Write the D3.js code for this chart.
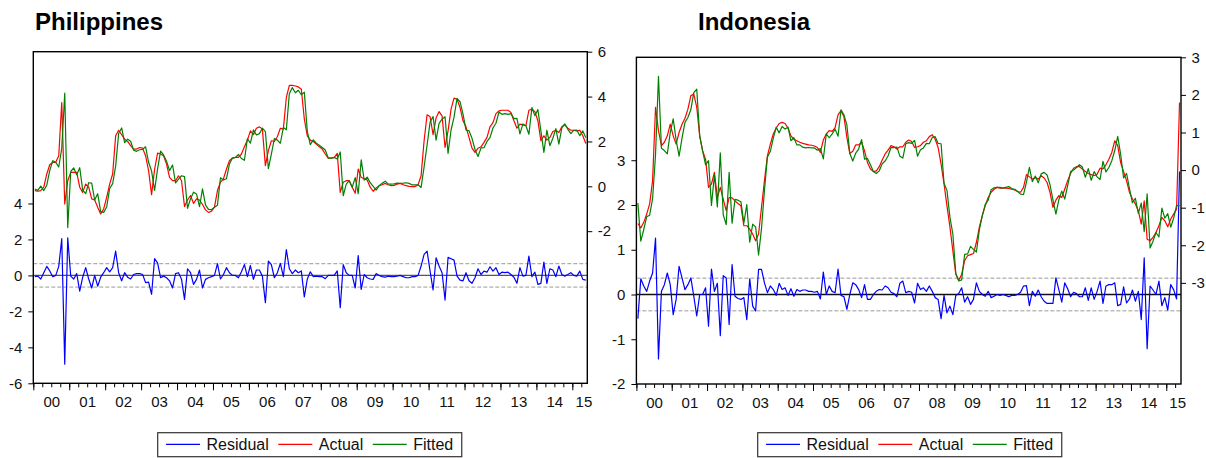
<!DOCTYPE html>
<html>
<head>
<meta charset="utf-8">
<script src="https://cdn.jsdelivr.net/npm/d3@7"></script>
<style>
  body { margin: 0; background: #fff; }
  svg { display: block; font-family: Arial, "Liberation Sans", sans-serif; }
</style>
</head>
<body>
<svg id="chart" width="1206" height="458"></svg>
<script>
// Monthly observations, 2000M01 onwards (185 months)
const yearLabels = ["00","01","02","03","04","05","06","07","08","09","10","11","12","13","14","15"];

const phActual = [
  -0.19,-0.22,-0.19,-0.04,0.55,0.96,1.07,1.07,1.36,3.73,
  -0.79,0.25,0.62,0.62,0.62,-0.04,-0.27,0.10,-0.04,-0.56,
  -0.61,-0.93,-1.23,-1.01,-0.49,0.10,0.55,2.25,2.50,2.30,
  2.10,2.00,1.81,1.66,1.66,1.73,1.70,1.36,0.70,-0.37,
  0.75,1.48,1.44,1.36,0.99,0.40,0.25,0.25,0.47,0.25,
  -0.90,-0.61,-0.41,-0.76,-0.56,-0.61,-0.81,-1.05,-1.16,-1.11,
  -0.93,-0.19,0.18,0.33,0.77,1.14,1.26,1.29,1.29,1.44,
  1.76,2.06,2.47,2.30,2.59,2.65,2.55,0.92,1.59,2.03,
  2.00,2.21,2.59,2.55,3.96,4.50,4.50,4.47,4.43,4.33,
  3.00,2.25,2.06,2.00,1.88,1.76,1.66,1.44,1.26,1.26,
  1.29,1.47,-0.27,0.18,0.25,0.25,-0.04,-0.31,0.77,0.40,
  0.33,0.28,-0.04,-0.22,-0.07,0.03,0.07,0.13,0.07,0.03,
  0.04,0.10,0.13,0.07,0.03,0.00,-0.01,-0.01,0.07,0.47,
  2.03,3.19,3.10,2.30,3.04,3.33,3.14,1.73,2.47,3.44,
  3.93,3.88,3.51,2.92,2.65,2.18,1.70,1.51,1.70,1.76,
  1.96,2.18,2.65,2.84,3.24,3.36,3.39,3.39,3.39,3.29,
  2.92,2.59,2.77,2.74,2.70,3.39,3.44,3.33,2.92,2.03,
  2.25,2.06,2.18,2.44,2.50,2.40,2.65,2.74,2.59,2.50,
  2.50,2.47,2.50,2.25,1.91
];
const phFitted = [
  -0.12,-0.18,0.01,-0.19,0.05,0.71,1.14,1.07,0.86,1.69,
  4.15,-1.84,0.66,0.82,0.52,0.83,-0.17,-0.33,0.16,0.14,
  -0.61,-0.33,-1.13,-1.16,-0.92,-0.10,0.12,0.90,2.35,2.60,
  1.95,2.10,2.01,1.61,1.56,1.63,1.65,1.76,1.07,0.68,
  -0.18,0.78,1.57,1.40,1.12,0.70,0.95,0.15,0.32,0.47,
  0.43,-0.98,-0.56,-0.26,-0.34,-0.91,-0.11,-0.83,-1.03,-1.04,
  -0.93,-0.84,0.38,0.28,0.34,0.99,1.26,1.29,1.42,1.24,
  1.16,2.13,1.92,2.52,2.29,2.35,2.59,2.44,0.79,1.43,
  2.13,2.06,1.92,2.62,2.52,4.13,4.40,4.17,4.28,4.08,
  4.20,2.45,1.86,2.07,1.92,1.83,1.73,1.62,1.26,1.26,
  1.29,1.22,1.53,-0.42,0.10,0.25,-0.04,0.39,-0.33,1.18,
  0.28,0.41,0.16,0.00,-0.17,0.03,0.14,0.23,0.11,0.10,
  0.11,0.14,0.13,0.14,0.16,0.13,0.06,0.06,0.07,-0.05,
  0.86,1.84,2.86,3.11,2.06,2.81,2.99,3.10,1.47,2.51,
  3.08,3.92,3.77,3.22,2.50,2.48,2.14,1.64,1.33,1.71,
  1.72,2.00,2.17,2.60,2.81,3.31,3.21,3.24,3.21,3.24,
  3.02,3.03,2.34,2.78,2.70,2.32,3.51,3.15,3.42,2.47,
  1.51,2.50,1.81,2.14,2.57,1.88,2.60,2.78,2.54,2.35,
  2.50,2.51,2.26,2.47,2.17
];
const phResidual = [
  -0.07,-0.04,-0.20,0.15,0.50,0.25,-0.07,0.00,0.50,2.04,
  -4.94,2.09,-0.04,-0.20,0.10,-0.87,-0.10,0.43,-0.20,-0.70,
  0.00,-0.60,-0.10,0.15,0.43,0.20,0.43,1.35,0.15,-0.30,
  0.15,-0.10,-0.20,0.05,0.10,0.10,0.05,-0.40,-0.37,-1.05,
  0.93,0.70,-0.13,-0.04,-0.13,-0.30,-0.70,0.10,0.15,-0.22,
  -1.33,0.37,0.15,-0.50,-0.22,0.30,-0.70,-0.22,-0.13,-0.07,
  0.00,0.65,-0.20,0.05,0.43,0.15,0.00,0.00,-0.13,0.20,
  0.60,-0.07,0.55,-0.22,0.30,0.30,-0.04,-1.52,0.80,0.60,
  -0.13,0.15,0.67,-0.07,1.44,0.37,0.10,0.30,0.15,0.25,
  -1.20,-0.20,0.20,-0.07,-0.04,-0.07,-0.07,-0.18,0.00,0.00,
  0.00,0.25,-1.80,0.60,0.15,0.00,0.00,-0.70,1.10,-0.78,
  0.05,-0.13,-0.20,-0.22,0.10,0.00,-0.07,-0.10,-0.04,-0.07,
  -0.07,-0.04,0.00,-0.07,-0.13,-0.13,-0.07,-0.07,0.00,0.52,
  1.17,1.35,0.24,-0.81,0.98,0.52,0.15,-1.37,1.00,0.93,
  0.85,-0.04,-0.26,-0.30,0.15,-0.30,-0.44,-0.13,0.37,0.05,
  0.24,0.18,0.48,0.24,0.43,0.05,0.18,0.15,0.18,0.05,
  -0.10,-0.44,0.43,-0.04,0.00,1.07,-0.07,0.18,-0.50,-0.44,
  0.74,-0.44,0.37,0.30,-0.07,0.52,0.05,-0.04,0.05,0.15,
  0.00,-0.04,0.24,-0.22,-0.26
];

const idActual = [
  -1.42,-1.54,-1.39,-1.17,-0.90,-0.28,1.67,1.05,0.65,0.74,
  0.91,1.22,0.91,0.69,1.00,1.22,1.38,1.62,1.98,2.02,
  1.67,0.91,0.51,0.29,-0.46,-0.37,-0.06,-0.73,-0.46,-0.77,
  -1.08,-0.73,-0.74,-0.82,-0.89,-0.95,-1.48,-1.48,-1.57,-1.70,
  -1.88,-1.70,-0.99,-0.28,0.38,0.69,0.96,1.12,1.24,1.27,
  1.24,1.12,0.91,0.82,0.78,0.74,0.71,0.69,0.67,0.66,
  0.64,0.60,0.47,0.80,0.96,1.05,1.03,1.13,1.47,1.58,
  1.42,0.87,0.44,0.50,0.67,0.67,0.74,0.51,0.20,0.03,
  -0.04,-0.02,0.09,0.27,0.43,0.53,0.65,0.62,0.56,0.62,
  0.62,0.74,0.80,0.76,0.60,0.62,0.65,0.74,0.78,0.89,
  0.94,0.82,0.60,0.16,-0.37,-0.95,-1.51,-2.15,-2.77,-2.93,
  -2.77,-2.41,-2.28,-2.25,-2.22,-1.92,-1.52,-1.21,-0.95,-0.73,
  -0.59,-0.51,-0.46,-0.48,-0.48,-0.48,-0.49,-0.51,-0.53,-0.57,
  -0.59,-0.46,-0.12,-0.18,-0.24,-0.20,-0.24,-0.15,-0.21,-0.33,
  -0.59,-0.99,-0.80,-0.68,-0.73,-0.51,-0.28,-0.09,0.05,0.09,
  0.09,0.03,-0.04,-0.09,-0.12,-0.15,-0.11,0.05,0.03,0.14,
  0.29,0.47,0.78,0.65,0.20,-0.04,-0.28,-0.59,-0.77,-0.90,
  -1.08,-1.44,-0.82,-1.84,-1.88,-1.79,-1.66,-1.48,-1.26,-1.35,
  -1.51,-1.30,-1.17,-1.04,1.80
];
const idFitted = [
  -0.88,-1.89,-1.58,-1.24,-1.20,-0.76,0.41,2.49,0.58,0.52,
  0.43,1.00,1.36,0.80,0.37,0.85,1.27,1.40,1.61,2.06,
  2.15,0.91,0.51,0.14,0.25,-0.94,-0.13,-0.98,0.46,-1.19,
  -1.45,-0.06,-1.41,-0.78,-0.80,-0.84,-1.41,-0.92,-1.92,-1.44,
  -1.51,-2.26,-1.55,-0.54,0.34,0.50,0.85,1.14,0.99,1.16,
  1.09,1.14,0.78,0.86,0.67,0.67,0.61,0.59,0.60,0.59,
  0.59,0.53,0.57,0.30,0.96,0.86,0.96,1.09,0.90,1.60,
  1.47,1.20,0.44,0.24,0.45,0.56,0.81,0.29,0.31,0.14,
  -0.04,-0.09,-0.02,0.17,0.24,0.38,0.60,0.60,0.61,0.37,
  0.32,0.70,0.73,0.71,0.79,0.37,0.54,0.59,0.71,0.70,
  0.87,0.89,0.71,0.70,-0.35,-0.54,-1.25,-1.70,-2.75,-2.95,
  -2.92,-2.24,-2.23,-2.03,-2.11,-2.18,-1.59,-1.21,-0.91,-0.80,
  -0.52,-0.47,-0.46,-0.46,-0.48,-0.46,-0.44,-0.49,-0.51,-0.57,
  -0.64,-0.65,-0.32,0.07,-0.31,-0.16,-0.34,-0.10,-0.06,-0.13,
  -0.39,-0.79,-1.17,-0.79,-0.56,-0.77,-0.41,-0.04,0.00,0.07,
  0.14,0.08,-0.19,0.04,-0.27,-0.04,-0.18,-0.25,0.23,-0.05,
  0.07,0.25,0.52,0.90,0.42,-0.21,-0.09,-0.49,-0.87,-0.75,
  -1.15,-0.88,-1.64,-0.63,-2.07,-1.89,-1.66,-1.78,-1.01,-1.28,
  -1.16,-1.52,-1.28,-0.94,-0.95
];
const idResidual = [
  -0.54,0.35,0.19,0.07,0.30,0.48,1.26,-1.44,0.07,0.22,
  0.48,0.22,-0.45,-0.11,0.63,0.37,0.11,0.22,0.37,-0.04,
  -0.48,0.00,0.00,0.15,-0.71,0.57,0.07,0.25,-0.92,0.42,
  0.37,-0.67,0.67,-0.04,-0.09,-0.11,-0.07,-0.56,0.35,-0.26,
  -0.37,0.56,0.56,0.26,0.04,0.19,0.11,-0.02,0.25,0.11,
  0.15,-0.02,0.13,-0.04,0.11,0.07,0.10,0.10,0.07,0.07,
  0.05,0.07,-0.10,0.50,0.00,0.19,0.07,0.04,0.57,-0.02,
  -0.05,-0.33,0.00,0.26,0.22,0.11,-0.07,0.22,-0.11,-0.11,
  0.00,0.07,0.11,0.10,0.19,0.15,0.05,0.02,-0.05,0.25,
  0.30,0.04,0.07,0.05,-0.19,0.25,0.11,0.15,0.07,0.19,
  0.07,-0.07,-0.11,-0.54,-0.02,-0.41,-0.26,-0.45,-0.02,0.02,
  0.15,-0.17,-0.05,-0.22,-0.11,0.26,0.07,0.00,-0.04,0.07,
  -0.07,-0.04,0.00,-0.02,0.00,-0.02,-0.05,-0.02,-0.02,0.00,
  0.05,0.19,0.20,-0.25,0.07,-0.04,0.10,-0.05,-0.15,-0.20,
  -0.20,-0.20,0.37,0.11,-0.17,0.26,0.13,-0.05,0.05,0.02,
  -0.05,-0.05,0.15,-0.13,0.15,-0.11,0.07,0.30,-0.20,0.19,
  0.22,0.22,0.26,-0.25,-0.22,0.17,-0.19,-0.10,0.10,-0.15,
  0.07,-0.56,0.82,-1.21,0.19,0.10,0.00,0.30,-0.25,-0.07,
  -0.35,0.22,0.11,-0.10,2.75
];

// Standard error of the regression (dashed bands around the residual)
const phSE = 0.65;
const idSE = 0.365;

const seriesNames = ["Residual", "Actual", "Fitted"];
const seriesColors = ["#0000ff", "#ff0000", "#008000"];

const svg = d3.select("#chart");
const nMonths = phActual.length;

const panels = [
  {
    id: "ph", title: "Philippines", titleX: 35,
    actual: phActual, fitted: phFitted, residual: phResidual, se: phSE,
    left: 33.3, right: 587.3, top: 51.7, bottom: 383.3,
    resDomain: [-6, 12.44], afDomain: [-8.78, 6],
    resTicks: [-6, -4, -2, 0, 2, 4], afTicks: [-2, 0, 2, 4, 6],
    zeroColor: "#555", legendX: 157.7
  },
  {
    id: "id", title: "Indonesia", titleX: 698,
    actual: idActual, fitted: idFitted, residual: idResidual, se: idSE,
    left: 636.4, right: 1181, top: 57.3, bottom: 384,
    resDomain: [-2, 5.3], afDomain: [-5.69, 3],
    resTicks: [-2, -1, 0, 1, 2, 3], afTicks: [-3, -2, -1, 0, 1, 2, 3],
    zeroColor: "#111", legendX: 757.7
  }
];

function styleAxis(sel) {
  sel.select(".domain").remove();
  sel.selectAll(".tick line").attr("stroke", "#000");
  sel.selectAll(".tick text")
    .attr("fill", "#111")
    .style("font-size", "15px")
    .style("font-family", "Arial, 'Liberation Sans', sans-serif");
}

function drawPanel(p) {
  const g = svg.append("g");
  const x = d3.scaleLinear().domain([0, nMonths]).range([p.left, p.right]);
  const yRes = d3.scaleLinear().domain(p.resDomain).range([p.bottom, p.top]);
  const yAF = d3.scaleLinear().domain(p.afDomain).range([p.bottom, p.top]);

  // title
  g.append("text")
    .attr("x", p.titleX).attr("y", 30)
    .attr("fill", "#000")
    .style("font-size", "24px").style("font-weight", "bold")
    .text(p.title);

  const clipId = "clip-" + p.id;
  g.append("clipPath").attr("id", clipId).append("rect")
    .attr("x", p.left).attr("y", p.top)
    .attr("width", p.right - p.left).attr("height", p.bottom - p.top);

  const plot = g.append("g").attr("clip-path", `url(#${clipId})`);

  // standard-error band lines and zero line for the residual
  [-p.se, p.se].forEach(v => {
    plot.append("line")
      .attr("x1", p.left).attr("x2", p.right)
      .attr("y1", yRes(v)).attr("y2", yRes(v))
      .attr("stroke", "#9a9a9a").attr("stroke-width", 1)
      .attr("stroke-dasharray", "4,2");
  });
  plot.append("line")
    .attr("x1", p.left).attr("x2", p.right)
    .attr("y1", yRes(0)).attr("y2", yRes(0))
    .attr("stroke", p.zeroColor).attr("stroke-width", 1.4);

  const xPos = (d, i) => x(i + 0.5);
  const resLine = d3.line().x(xPos).y(d => yRes(d));
  const afLine = d3.line().x(xPos).y(d => yAF(d));

  plot.append("path").datum(p.residual)
    .attr("d", resLine).attr("fill", "none")
    .attr("stroke", seriesColors[0]).attr("stroke-width", 1.2)
    .attr("stroke-linejoin", "round");
  plot.append("path").datum(p.actual)
    .attr("d", afLine).attr("fill", "none")
    .attr("stroke", seriesColors[1]).attr("stroke-width", 1.2)
    .attr("stroke-linejoin", "round");
  plot.append("path").datum(p.fitted)
    .attr("d", afLine).attr("fill", "none")
    .attr("stroke", seriesColors[2]).attr("stroke-width", 1.2)
    .attr("stroke-linejoin", "round");

  // frame
  g.append("rect")
    .attr("x", p.left).attr("y", p.top)
    .attr("width", p.right - p.left).attr("height", p.bottom - p.top)
    .attr("fill", "none").attr("stroke", "#000").attr("stroke-width", 1.4);

  // left axis: residual
  g.append("g").attr("transform", `translate(${p.left},0)`)
    .call(d3.axisLeft(yRes).tickValues(p.resTicks).tickSize(5).tickPadding(6)
      .tickFormat(d => String(d)))
    .call(styleAxis);

  // right axis: actual / fitted
  g.append("g").attr("transform", `translate(${p.right},0)`)
    .call(d3.axisRight(yAF).tickValues(p.afTicks).tickSize(5).tickPadding(5.5)
      .tickFormat(d => String(d)))
    .call(styleAxis);

  // bottom axis: quarter and year ticks, year labels
  g.append("g").attr("transform", `translate(0,${p.bottom})`)
    .call(d3.axisBottom(x).tickValues(d3.range(0, nMonths, 3)).tickSize(4).tickFormat(""))
    .call(styleAxis);
  g.append("g").attr("transform", `translate(0,${p.bottom})`)
    .call(d3.axisBottom(x).tickValues(d3.range(0, nMonths, 12)).tickSize(7).tickFormat(""))
    .call(styleAxis);
  const labelPos = yearLabels.map((_, k) => Math.min(12 * k + 6, nMonths - 1.3));
  g.append("g").attr("transform", `translate(0,${p.bottom})`)
    .call(d3.axisBottom(x).tickValues(labelPos).tickSize(0).tickPadding(13.4)
      .tickFormat((d, i) => yearLabels[i]))
    .call(styleAxis);

  // legend
  const lg = g.append("g").attr("transform", `translate(${p.legendX},432.7)`);
  const box = lg.append("rect")
    .attr("x", 0).attr("y", 0).attr("height", 24)
    .attr("fill", "#fff").attr("stroke", "#333").attr("stroke-width", 1.2);
  let cx = 8.3;
  seriesNames.forEach((name, k) => {
    lg.append("line")
      .attr("x1", cx).attr("x2", cx + 34)
      .attr("y1", 11.6).attr("y2", 11.6)
      .attr("stroke", seriesColors[k]).attr("stroke-width", 1.2);
    const t = lg.append("text")
      .attr("x", cx + 40.5).attr("y", 17.5)
      .attr("fill", "#111")
      .style("font-size", "16px")
      .text(name);
    cx = cx + 40.5 + t.node().getComputedTextLength() + 9.5;
  });
  box.attr("width", cx - 1);
}

panels.forEach(drawPanel);
</script>
</body>
</html>
